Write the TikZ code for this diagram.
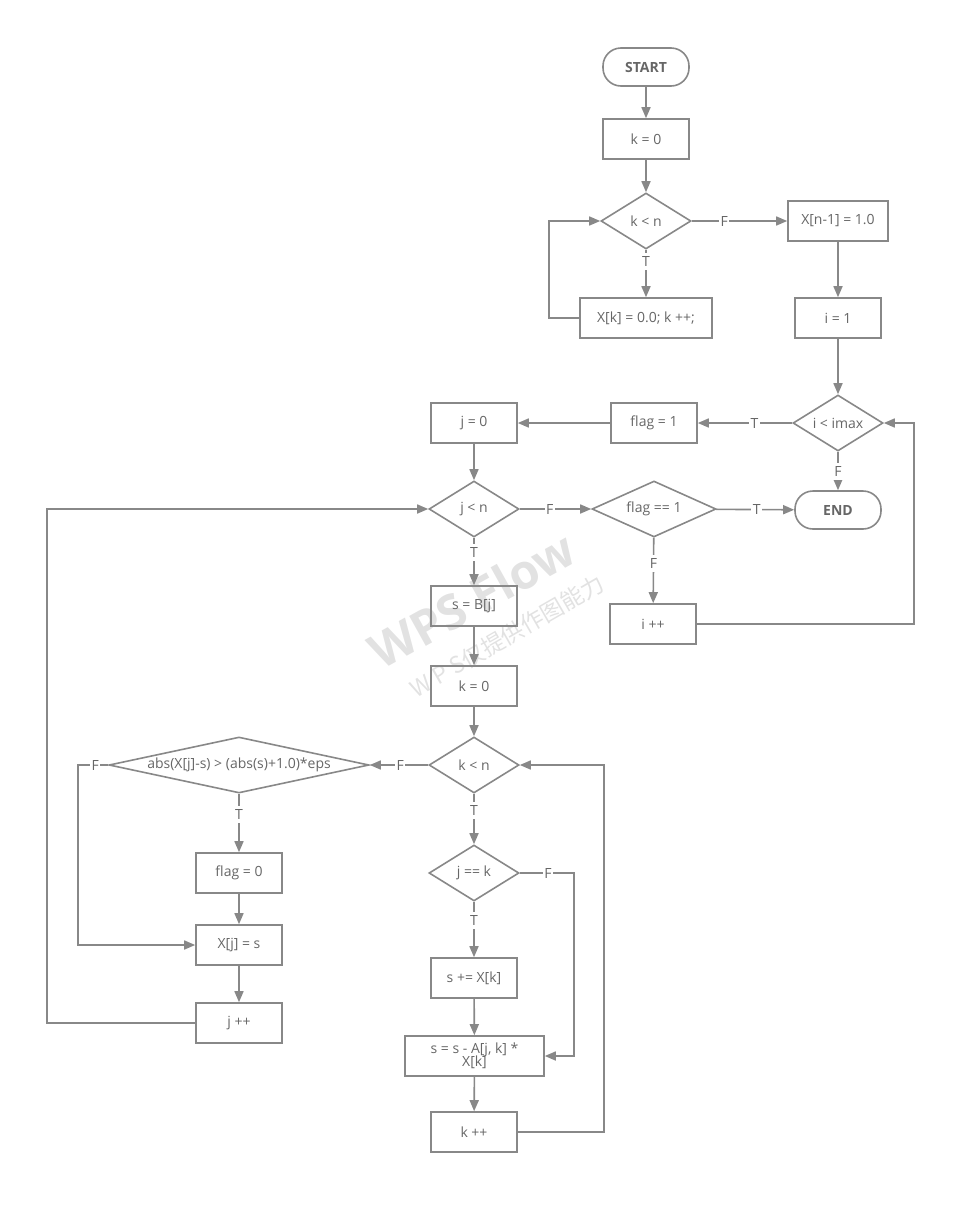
\documentclass[tikz,border=0pt]{standalone}
\usepackage{fontspec}
\setmainfont{Open Sans}
\newfontfamily\cjkfont{Noto Sans CJK SC}
\usetikzlibrary{shapes.geometric,arrows.meta}

\definecolor{linegray}{HTML}{888888}
\definecolor{textgray}{HTML}{666666}
\definecolor{markgray}{HTML}{E2E2E2}

\tikzset{
  lbl/.style={font=\fontsize{14}{16}\selectfont, text=textgray},
  proc/.style={lbl, draw=linegray, line width=1.6pt, minimum width=86pt, minimum height=40pt, inner sep=2pt},
  term/.style={proc, rounded corners=18pt, minimum height=38pt, font=\fontsize{14}{16}\selectfont\bfseries},
  decision/.style={lbl, draw=linegray, line width=1.6pt, diamond, inner sep=0pt, minimum width=90pt, minimum height=56pt, aspect=1.6},
  flow/.style={draw=linegray, line width=1.6pt, -{Triangle[length=11pt,width=9pt]}},
  tf/.style={lbl, fill=white, inner xsep=1.5pt, inner ysep=3.5pt},
}

\begin{document}
\begin{tikzpicture}[x=1pt, y=-1pt]
\useasboundingbox (0,0) rectangle (974,1213);

% Watermark
\node[rotate=29, text=markgray, font=\fontsize{48}{52}\selectfont\bfseries] (mark) at (472,600) {WPS Flow};
\node[rotate=30, text=markgray, font=\fontsize{23}{26}\selectfont\cjkfont] (marksub) at (507,636) {W P S仅提供作图能力};

% Initialisation
\node[term] (start) at (646,67) {START};
\node[proc] (k0) at (646,139) {k = 0};
\node[decision] (kdia) at (646,221) {k < n};
\node[proc, minimum width=132pt] (kinit) at (646,318) {X[k] = 0.0; k ++;};
\node[proc, minimum width=100pt] (xn) at (838,221) {X[n-1] = 1.0};
\node[proc] (i1) at (838,318) {i = 1};

% Outer loop
\node[decision] (idia) at (838,423) {i < imax};
\node[proc] (flag1) at (654,423) {flag = 1};
\node[proc] (j0) at (474,423) {j = 0};
\node[decision] (jdia) at (474,509) {j < n};
\node[decision, minimum width=124pt, aspect=2.2] (flagdia) at (654,509) {flag == 1};
\node[term] (end) at (838,510) {END};
\node[proc] (iinc) at (653,624) {i ++};

% Row loop
\node[proc] (sB) at (474,606) {s = B[j]};
\node[proc] (k0b) at (474,686) {k = 0};
\node[decision] (kdia2) at (474,765) {k < n};
\node[decision, minimum width=260pt, aspect=4.6] (absdia) at (239,765) {abs(X[j]-s) > (abs(s)+1.0)*eps};
\node[proc] (flag0) at (239,873) {flag = 0};
\node[proc] (xjs) at (239,945) {X[j] = s};
\node[proc] (jinc) at (239,1023) {j ++};
\node[decision] (jk) at (474,873) {j == k};
\node[proc] (sX) at (474,978) {s += X[k]};
\node[proc, minimum width=139pt, align=center, inner sep=1pt] (sA) at (474.5,1056) {s = s - A[j, k] *\\[-3pt] X[k]};
\node[proc] (kinc) at (474,1132) {k ++};

% Connectors
\draw[flow] (start) -- (k0);
\draw[flow] (k0) -- (kdia);
\draw[flow] (kdia) -- node[tf, pos=0.24] {T} (kinit);
\draw[flow] (kinit.west) -- ++(-30,0) |- (kdia.west);
\draw[flow] (kdia) -- node[tf, pos=0.34] {F} (xn);
\draw[flow] (xn) -- (i1);
\draw[flow] (i1) -- (idia);
\draw[flow] (idia) -- node[tf, pos=0.4] {T} (flag1);
\draw[flow] (idia) -- node[tf, pos=0.5] {F} (end);
\draw[flow] (flag1) -- (j0);
\draw[flow] (j0) -- (jdia);
\draw[flow] (jdia) -- node[tf, pos=0.42] {F} (flagdia);
\draw[flow] (flagdia) -- node[tf, pos=0.52] {T} (end);
\draw[flow] (flagdia) -- node[tf, pos=0.39] {F} (iinc);
\draw[flow] (iinc.east) -- ++(217,0) |- (idia.east);
\draw[flow] (jdia) -- node[tf, pos=0.3] {T} (sB);
\draw[flow] (sB) -- (k0b);
\draw[flow] (k0b) -- (kdia2);
\draw[flow] (kdia2) -- node[tf, pos=0.48] {F} (absdia);
\draw[flow] (absdia.west) -- node[tf, pos=0.43] {F} ++(-30,0) |- (xjs.west);
\draw[flow] (absdia) -- node[tf, pos=0.35] {T} (flag0);
\draw[flow] (flag0) -- (xjs);
\draw[flow] (xjs) -- (jinc);
\draw[flow] (jinc.west) -- ++(-148,0) |- (jdia.west);
\draw[flow] (kdia2) -- node[tf, pos=0.33] {T} (jk);
\draw[flow] (jk) -- node[tf, pos=0.33] {T} (sX);
\draw[flow] (jk.east) -- node[tf, pos=0.52] {F} ++(54,0) |- (sA.east);
\draw[flow] (sX) -- (sA);
\draw[flow] (sA) -- (kinc);
\draw[flow] (kinc.east) -- ++(86,0) |- (kdia2.east);

\end{tikzpicture}
\end{document}
